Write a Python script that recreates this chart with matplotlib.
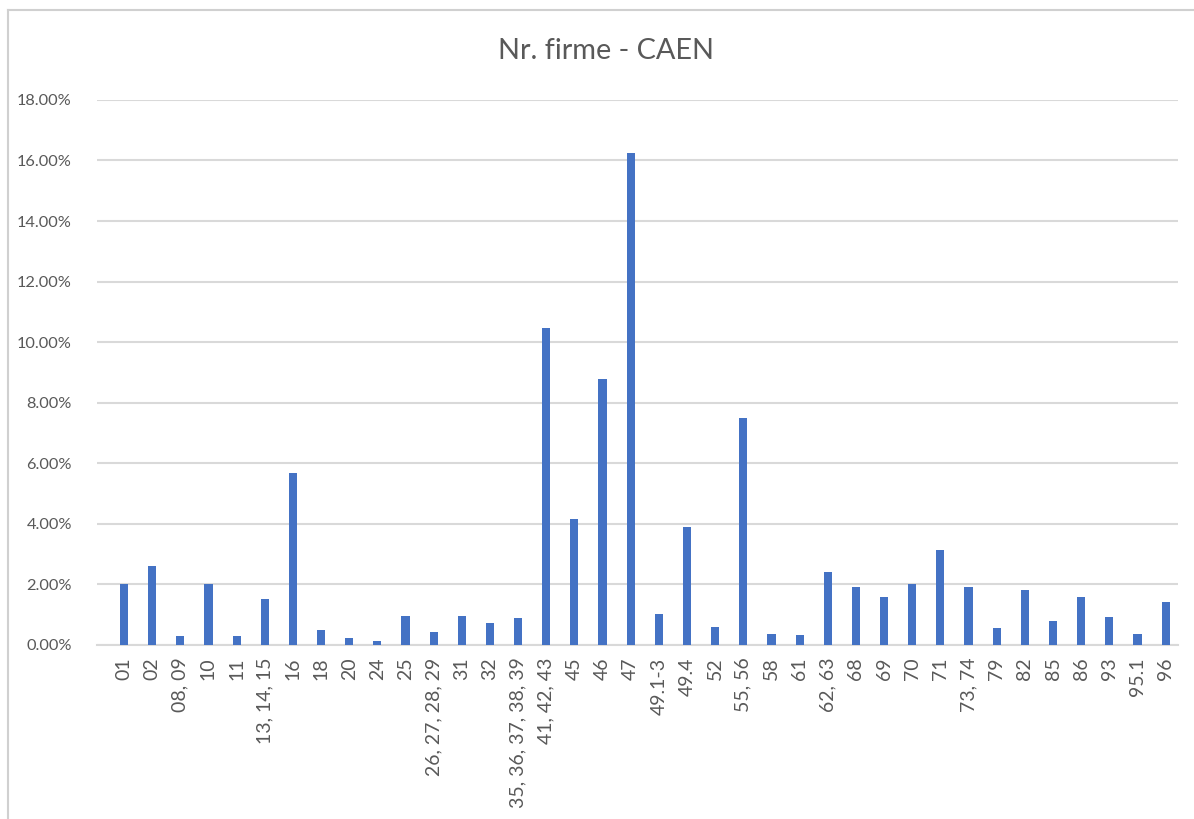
import matplotlib.pyplot as plt
from matplotlib.ticker import PercentFormatter
from matplotlib.lines import Line2D

# CAEN codes and share of companies (%)
caen_codes = ["01", "02", "08, 09", "10", "11", "13, 14, 15", "16", "18", "20", "24",
              "25", "26, 27, 28, 29", "31", "32", "35, 36, 37, 38, 39", "41, 42, 43",
              "45", "46", "47", "49.1-3", "49.4", "52", "55, 56", "58", "61", "62, 63",
              "68", "69", "70", "71", "73, 74", "79", "82", "85", "86", "93", "95.1", "96"]
share_pct = [2.02, 2.60, 0.30, 2.00, 0.30, 1.52, 5.68, 0.50, 0.23, 0.12,
             0.96, 0.43, 0.96, 0.72, 0.89, 10.46,
             4.16, 8.78, 16.24, 1.02, 3.90, 0.58, 7.49, 0.35, 0.32, 2.41,
             1.91, 1.60, 2.02, 3.13, 1.91, 0.57, 1.80, 0.80, 1.60, 0.92, 0.35, 1.42]

text_color = "#595959"
plt.rcParams["font.family"] = ["Lato", "DejaVu Sans"]

fig = plt.figure(figsize=(11.94, 8.19), dpi=100)
ax = fig.add_axes([0.0812, 0.2125, 0.9054, 0.6655])

x = range(len(caen_codes))
ax.bar(x, [v / 100 for v in share_pct], width=0.29, color="#4472C4", zorder=3)

ax.set_ylim(0, 0.18)
ax.set_yticks([i / 100 for i in range(0, 19, 2)])
ax.yaxis.set_major_formatter(PercentFormatter(1.0, decimals=2))
# plot area is a bit wider on the left than on the right, like the original
ax.set_xlim(-0.96, len(caen_codes) - 0.56)
ax.set_xticks(list(x))
ax.set_xticklabels(caen_codes, rotation=90)

ax.grid(axis="y", color="#D9D9D9", linewidth=1.5, zorder=0)
for side in ["top", "right", "left"]:
    ax.spines[side].set_visible(False)
ax.spines["bottom"].set_color("#D9D9D9")
ax.spines["bottom"].set_linewidth(1.5)
ax.tick_params(axis="both", length=0, colors=text_color)
ax.tick_params(axis="y", pad=18, labelsize=11.8)
ax.tick_params(axis="x", pad=9, labelsize=14)

fig.text(0.5075, 0.938, "Nr. firme - CAEN", ha="center", va="center",
         fontsize=20.8, color=text_color)

# chart frame (only top and left edges are visible in the crop)
fig.add_artist(Line2D([0.0067, 1.0], [0.988, 0.988], transform=fig.transFigure,
                      color="#D0D0D0", linewidth=1.5))
fig.add_artist(Line2D([0.0067, 0.0067], [0.0, 0.988], transform=fig.transFigure,
                      color="#D0D0D0", linewidth=1.5))

plt.savefig("out.png", dpi=100)
